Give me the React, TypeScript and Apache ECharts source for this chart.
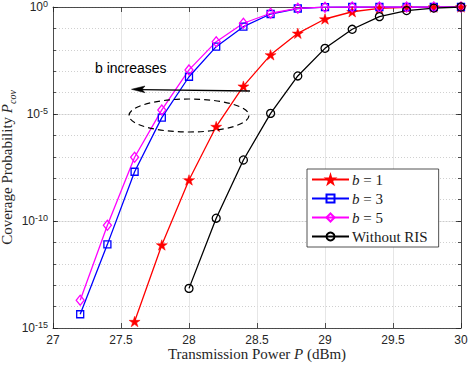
import React, { useEffect, useRef } from "react";
import * as echarts from "echarts";

// Transmission power (dBm) sample points per curve
const xB5 = [27.2, 27.4, 27.6, 27.8, 28.0, 28.2, 28.4, 28.6, 28.8, 29.0, 29.2, 29.4, 29.6, 29.8, 30.0];
const yB5 = [2.0e-14, 6.3e-11, 9.5e-8, 1.55e-5, 1.15e-3, 0.024, 0.174, 0.51, 0.87, 0.98, 1, 1, 1, 1, 1];

const xB3 = [27.2, 27.4, 27.6, 27.8, 28.0, 28.2, 28.4, 28.6, 28.8, 29.0, 29.2, 29.4, 29.6, 29.8, 30.0];
const yB3 = [4.4e-15, 8.1e-12, 2.0e-8, 6.8e-6, 5.5e-4, 0.014, 0.12, 0.47, 0.85, 0.98, 1, 1, 1, 1, 1];

const xB1 = [27.6, 27.8, 28.0, 28.2, 28.4, 28.6, 28.8, 29.0, 29.2, 29.4, 29.6, 29.8, 30.0];
const yB1 = [2.0e-15, 7.6e-12, 8.3e-9, 2.6e-6, 2.0e-4, 5.8e-3, 0.059, 0.275, 0.6, 0.87, 0.96, 0.99, 1];

const xNo = [28.0, 28.2, 28.4, 28.6, 28.8, 29.0, 29.2, 29.4, 29.6, 29.8, 30.0];
const yNo = [7.1e-14, 1.35e-10, 7.1e-8, 1.07e-5, 6.0e-4, 0.0117, 0.091, 0.355, 0.68, 0.89, 1.0];

const seriesNames = ["b = 1", "b = 3", "b = 5", "Without RIS"];
const xMin = 27;
const xMax = 30;
const xStep = 0.5;
const yMin = 1e-15;
const yMax = 1;

const STAR =
  "path://M100 0 L122.45 69.1 L195.1 69.1 L136.3 111.8 L158.8 180.9 L100 138.2 L41.2 180.9 L63.7 111.8 L4.9 69.1 L77.55 69.1 Z";

const AX = "#262626";
const SERIF = "'Liberation Serif', 'Times New Roman', serif";
const SANS = "'Liberation Sans', Arial, Helvetica, sans-serif";

const pairs = (xs: number[], ys: number[]) => xs.map((x, i) => [x, ys[i]]);

export default function App() {
  const ref = useRef<HTMLDivElement>(null);
  useEffect(() => {
    if (!ref.current) return;
    const chart = echarts.init(ref.current, undefined, { renderer: "svg" });

    const supFmt = (v: number) => {
      const e = Math.round(Math.log10(v));
      return "10{sup|" + e + "}";
    };

    const logAxisBase = {
      type: "log" as const,
      logBase: 10,
      min: yMin,
      max: yMax,
    };

    const option: any = {
      animation: false,
      backgroundColor: "#fff",
      grid: { left: 53, right: 9, top: 7, bottom: 38, containLabel: false, outerBoundsMode: "none" },
      xAxis: [
        {
          type: "value",
          min: xMin,
          max: xMax,
          interval: xStep,
          position: "bottom",
          name: "Transmission Power {i|P} (dBm)",
          nameLocation: "middle",
          nameGap: 18,
          nameMoveOverlap: false,
          nameTextStyle: {
            fontFamily: SERIF,
            fontSize: 15,
            fontWeight: "normal",
            color: AX,
            rich: { i: { fontFamily: SERIF, fontSize: 15, fontStyle: "italic", fontWeight: "normal", color: AX } },
          },
          axisLine: { show: true, lineStyle: { color: AX, width: 0.8 } },
          axisTick: { show: true, inside: true, length: 5, lineStyle: { color: AX, width: 0.8 } },
          axisLabel: {
            fontFamily: SANS,
            fontSize: 12,
            color: AX,
            margin: 6,
            formatter: (v: number) => String(v),
          },
          splitLine: { show: true, lineStyle: { color: "#dfdfdf", width: 0.8 } },
        },
        {
          type: "value",
          min: xMin,
          max: xMax,
          interval: xStep,
          position: "top",
          axisLine: { show: true, lineStyle: { color: AX, width: 0.8 } },
          axisTick: { show: true, inside: true, length: 5, lineStyle: { color: AX, width: 0.8 } },
          axisLabel: { show: false },
          splitLine: { show: false },
        },
      ],
      yAxis: [
        {
          ...logAxisBase,
          interval: 5,
          position: "left",
          name: "Coverage Probability {i|P}{sub|cov}",
          nameLocation: "middle",
          nameRotate: 90,
          nameGap: 36,
          nameMoveOverlap: false,
          nameTextStyle: {
            fontFamily: SERIF,
            fontSize: 15,
            fontWeight: "normal",
            color: AX,
            lineHeight: 20,
            rich: {
              i: { fontFamily: SERIF, fontSize: 15, fontStyle: "italic", fontWeight: "normal", color: AX, lineHeight: 20 },
              sub: {
                fontFamily: SERIF,
                fontSize: 10,
                fontStyle: "italic",
                fontWeight: "normal",
                color: AX,
                lineHeight: 10,
                verticalAlign: "bottom",
              },
            },
          },
          axisLine: { show: true, lineStyle: { color: AX, width: 0.8 } },
          axisTick: { show: true, inside: true, length: 5, lineStyle: { color: AX, width: 0.8 } },
          axisLabel: {
            fontFamily: SANS,
            fontSize: 12,
            color: AX,
            margin: 5,
            lineHeight: 16,
            formatter: supFmt,
            rich: {
              sup: { fontFamily: SANS, fontSize: 9, color: AX, lineHeight: 9, verticalAlign: "top" },
            },
          },
          splitLine: { show: true, lineStyle: { color: "#dfdfdf", width: 0.8 } },
        },
        {
          ...logAxisBase,
          interval: 1,
          position: "left",
          axisLine: { show: false },
          axisTick: { show: true, inside: true, length: 3, lineStyle: { color: AX, width: 0.8 } },
          axisLabel: { show: false },
          splitLine: { show: true, lineStyle: { color: "#c4c4c4", width: 0.8, type: [1, 2] } },
        },
        {
          ...logAxisBase,
          interval: 1,
          position: "right",
          axisLine: { show: true, lineStyle: { color: AX, width: 0.8 } },
          axisTick: { show: true, inside: true, length: 3, lineStyle: { color: AX, width: 0.8 } },
          axisLabel: { show: false },
          splitLine: { show: false },
        },
        {
          ...logAxisBase,
          interval: 5,
          position: "right",
          axisLine: { show: false },
          axisTick: { show: true, inside: true, length: 5, lineStyle: { color: AX, width: 0.8 } },
          axisLabel: { show: false },
          splitLine: { show: false },
        },
      ],
      legend: {
        orient: "vertical",
        left: 307,
        top: 169,
        itemWidth: 37,
        itemHeight: 10,
        itemGap: 4,
        padding: [3, 11, 3, 4],
        backgroundColor: "#fff",
        borderColor: AX,
        borderWidth: 0.8,
        borderRadius: 0,
        data: seriesNames,
        textStyle: {
          fontFamily: SERIF,
          fontSize: 15,
          fontWeight: "normal",
          color: "#1a1a1a",
          padding: [0, 0, 0, -2],
          rich: { i: { fontFamily: SERIF, fontSize: 15, fontStyle: "italic", fontWeight: "normal", color: "#1a1a1a" } },
        },
        formatter: (name: string) => (name.startsWith("b") ? "{i|b}" + name.slice(1) : name),
      },
      graphic: [
        {
          type: "text",
          left: 95,
          top: 61,
          style: { text: "b increases", fontFamily: SANS, fontSize: 14, fill: "#000" },
          z: 100,
        },
        {
          type: "line",
          shape: { x1: 140, y1: 89.6, x2: 250, y2: 91 },
          style: { stroke: "#000", lineWidth: 1.3 },
          z: 100,
        },
        {
          type: "polygon",
          shape: { points: [[131.5, 89.3], [145, 86], [142, 89.5], [145, 92.7]] },
          style: { fill: "#000", stroke: "#000", lineWidth: 0.5 },
          z: 100,
        },
        {
          type: "ellipse",
          shape: { cx: 189, cy: 115.5, rx: 60, ry: 16.5 },
          style: { fill: "none", stroke: "#000", lineWidth: 1.2, lineDash: [6, 4] },
          z: 100,
        },
      ],
      series: [
        {
          name: seriesNames[0],
          type: "line",
          data: pairs(xB1, yB1),
          symbol: STAR,
          symbolSize: 11,
          symbolKeepAspect: true,
          lineStyle: { color: "#ff0000", width: 1.3 },
          itemStyle: { color: "#ff0000", borderColor: "#ff0000", borderWidth: 0.5 },
          emphasis: { disabled: true },
        },
        {
          name: seriesNames[1],
          type: "line",
          data: pairs(xB3, yB3),
          symbol: "rect",
          symbolSize: 7,
          lineStyle: { color: "#0000ff", width: 1.3 },
          itemStyle: { color: "rgba(255,255,255,0)", borderColor: "#0000ff", borderWidth: 1.3 },
          emphasis: { disabled: true },
        },
        {
          name: seriesNames[2],
          type: "line",
          data: pairs(xB5, yB5),
          symbol: "diamond",
          symbolSize: [8, 10],
          lineStyle: { color: "#ff00ff", width: 1.3 },
          itemStyle: { color: "rgba(255,255,255,0)", borderColor: "#ff00ff", borderWidth: 1.3 },
          emphasis: { disabled: true },
        },
        {
          name: seriesNames[3],
          type: "line",
          data: pairs(xNo, yNo),
          symbol: "circle",
          symbolSize: 8,
          lineStyle: { color: "#000000", width: 1.3 },
          itemStyle: { color: "rgba(255,255,255,0)", borderColor: "#000000", borderWidth: 1.3 },
          emphasis: { disabled: true },
        },
      ],
    };

    chart.setOption(option);
    return () => chart.dispose();
  }, []);

  return (
    <div
      ref={ref}
      style={{ position: "fixed", left: 0, top: 0, width: 470, height: 366, background: "#fff" }}
    />
  );
}
